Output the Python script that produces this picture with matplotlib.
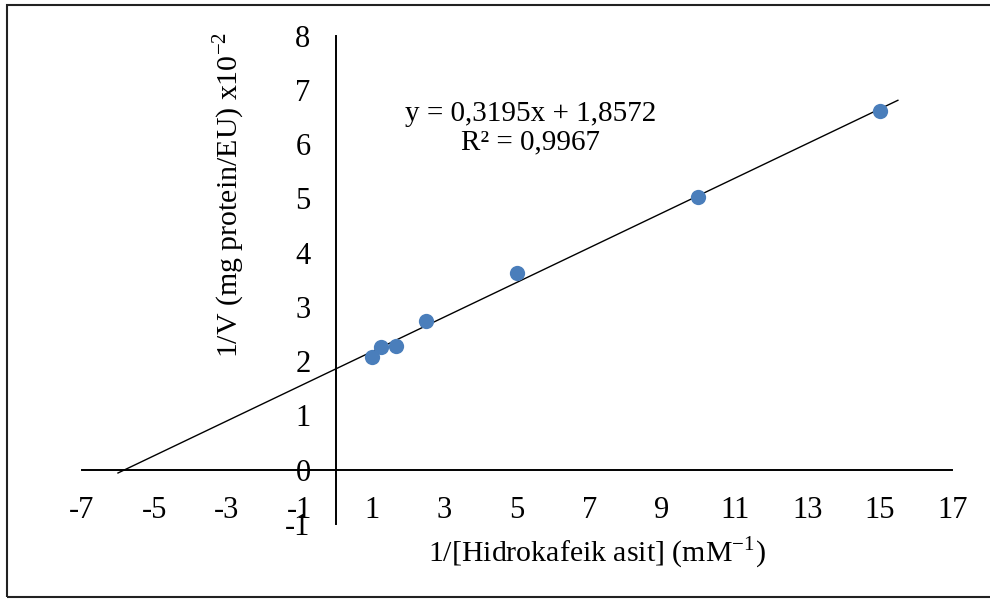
#
# imports
import numpy as np
import matplotlib
matplotlib.use("Agg")
import matplotlib.pyplot as plt
from matplotlib.patches import Rectangle
#
# Lineweaver-Burk plot for hydrocaffeic acid
#
plt.rcParams['font.family'] = ['Liberation Serif', 'DejaVu Serif']
plt.rcParams['mathtext.fontset'] = 'custom'
plt.rcParams['mathtext.rm'] = 'Liberation Serif'
plt.rcParams['axes.unicode_minus'] = False
#################################################################
# Data: 1/[S] (mM-1) and 1/V (mg protein/EU x10-2)
inv_s = [1.0, 1.25, 1.667, 2.5, 5.0, 10.0, 15.0]
inv_v = [2.07, 2.27, 2.285, 2.75, 3.62, 5.02, 6.62]
# Linear trendline (as reported)
slope = 0.3195
intercept = 1.8572
r2 = 0.9967
# trendline forecast (units of x)
backward = 7.0
forward = 0.5
# Ticks
xticks = [-7, -5, -3, -1, 1, 3, 5, 7, 9, 11, 13, 15, 17]
yticks = [-1, 0, 1, 2, 3, 4, 5, 6, 7, 8]
#-------------------------------------
W, H = 990, 599
fig = plt.figure(figsize=(W/100, H/100), dpi=100)
ax = fig.add_axes([81.7/W, 1-524/H, 870.6/W, (524-35.7)/H])

# Points
ax.plot(inv_s, inv_v, 'o', color='#4A7EBB', markersize=11, markeredgewidth=0, zorder=3)

# Trendline
xfit = np.array([min(inv_s)-backward, max(inv_s)+forward])
ax.plot(xfit, slope*xfit+intercept, color='black', lw=1.0, zorder=2)

# Equation label
eq = ('y = %.4fx + %.4f' % (slope, intercept)).replace('.', ',')
rr = ('R² = %.4f' % r2).replace('.', ',')
ax.text(5.37, 6.3, eq+'\n'+rr, ha='center', va='center', fontsize=21, linespacing=1.1)

# Axes crossing at origin
ax.set_xlim(-7, 17)
ax.set_ylim(-1, 8)
ax.spines['left'].set_position(('data', 0))
ax.spines['bottom'].set_position(('data', 0))
ax.spines['top'].set_visible(False)
ax.spines['right'].set_visible(False)
for s in ['left', 'bottom']:
    ax.spines[s].set_linewidth(1.4)
ax.set_xticks(xticks)
ax.set_yticks(yticks)
ax.tick_params(axis='x', length=0, pad=19, labelsize=22)
ax.tick_params(axis='y', length=0, pad=18, labelsize=22)
ax.patch.set_visible(False)

# Axis titles
fig.text(229/W, 1-195/H, r'1/V (mg protein/EU) x10$^{-2}$', rotation=90,
         ha='center', va='center', fontsize=21.5)
fig.text(597/W, 1-553/H, r'1/[Hidrokafeik asit] (mM$^{-1}$)',
         ha='center', va='center', fontsize=21.5)

# Frame round the figure
fig.patches.append(Rectangle((7/W, 2/H), 1.0, 1-7/H, transform=fig.transFigure,
                             fill=False, edgecolor='#222222', lw=1.5))

fig.savefig('out.png', dpi=100)
#################################################################
